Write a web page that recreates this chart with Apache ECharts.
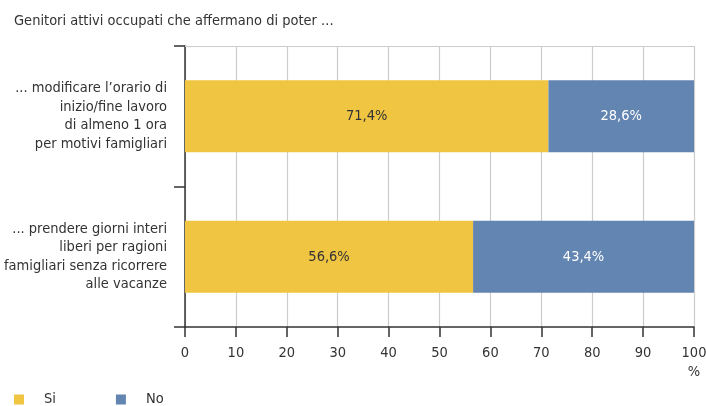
<!DOCTYPE html>
<html>
<head>
<meta charset="utf-8">
<script src="https://cdn.jsdelivr.net/npm/echarts@6/dist/echarts.min.js"></script>
<style>html,body{margin:0;padding:0;background:#fff}#c{width:706px;height:406px}</style>
</head>
<body>
<div id="c"></div>
<script>
const title = 'Genitori attivi occupati che affermano di poter ...';
const categories = [
  '... modificare l\u2019orario di\ninizio/fine lavoro\ndi almeno 1 ora\nper motivi famigliari',
  '... prendere giorni interi\nliberi per ragioni\nfamigliari senza ricorrere\nalle vacanze'
];
const seriesNames = ['Si', 'No'];
const siValues = [71.4, 56.6];
const noValues = [28.6, 43.4];
const xTicks = [0, 10, 20, 30, 40, 50, 60, 70, 80, 90, 100];

const FONT = '"Liberation Sans Narrow", "DejaVu Sans Condensed", "Roboto Condensed", sans-serif';
const FS = 14.5;
const TXT = '#333333';
const fmt = v => v.toFixed(1).replace('.', ',') + '%';

const chart = echarts.init(document.getElementById('c'));
chart.setOption({
  animation: false,
  textStyle: { fontFamily: FONT },
  title: {
    text: title, left: 9, top: 9,
    textStyle: { fontFamily: FONT, fontSize: FS, fontWeight: 'normal', color: TXT }
  },
  legend: {
    data: seriesNames, left: 14, top: 392, padding: 0, itemWidth: 10, itemHeight: 10,
    itemGap: 60, icon: 'rect',
    textStyle: { fontFamily: FONT, fontSize: FS, color: TXT, padding: [0, 0, 0, 15] }
  },
  grid: { left: 185, right: 12, top: 46, bottom: 79, containLabel: false, outerBoundsMode: 'none' },
  xAxis: [{
    type: 'value', min: 0, max: 100, interval: 10,
    axisLine: { show: true, lineStyle: { color: '#333', width: 1.5 } },
    axisTick: { show: true, length: 10, lineStyle: { color: '#333', width: 1.5 } },
    axisLabel: { fontFamily: FONT, fontSize: FS, color: TXT, margin: 19,
      formatter: v => xTicks.includes(v) ? String(v) : '' },
    splitLine: { show: true, lineStyle: { color: '#cccccc', width: 1.2 } },
    name: '%', nameLocation: 'end', nameGap: 0,
    nameTextStyle: { fontFamily: FONT, fontSize: FS, color: TXT, align: 'center', verticalAlign: 'top', padding: [38, 0, 0, 0] }
  }, {
    type: 'value', min: 0, max: 100, position: 'top',
    axisLine: { show: true, onZero: false, lineStyle: { color: '#cccccc', width: 1.2 } },
    axisTick: { show: false }, axisLabel: { show: false }, splitLine: { show: false }
  }],
  yAxis: {
    type: 'category', data: categories, inverse: true,
    axisLine: { show: true, lineStyle: { color: '#333', width: 1.5 } },
    axisTick: { show: true, length: 11, lineStyle: { color: '#333', width: 1.5 } },
    axisLabel: { fontFamily: FONT, fontSize: FS, color: TXT, margin: 18, lineHeight: 18.5, align: 'right', padding: [12, 0, 0, 0] }
  },
  series: [
    {
      name: seriesNames[0], type: 'bar', stack: 't', data: siValues, barWidth: 72,
      itemStyle: { color: '#F0C542' },
      label: { show: true, position: 'inside', color: TXT, fontFamily: FONT, fontSize: FS,
        formatter: p => fmt(p.value) }
    },
    {
      name: seriesNames[1], type: 'bar', stack: 't', data: noValues, barWidth: 72,
      itemStyle: { color: '#6385B1' },
      label: { show: true, position: 'inside', color: '#ffffff', fontFamily: FONT, fontSize: FS,
        formatter: p => fmt(p.value) }
    }
  ]
});
</script>
</body>
</html>
